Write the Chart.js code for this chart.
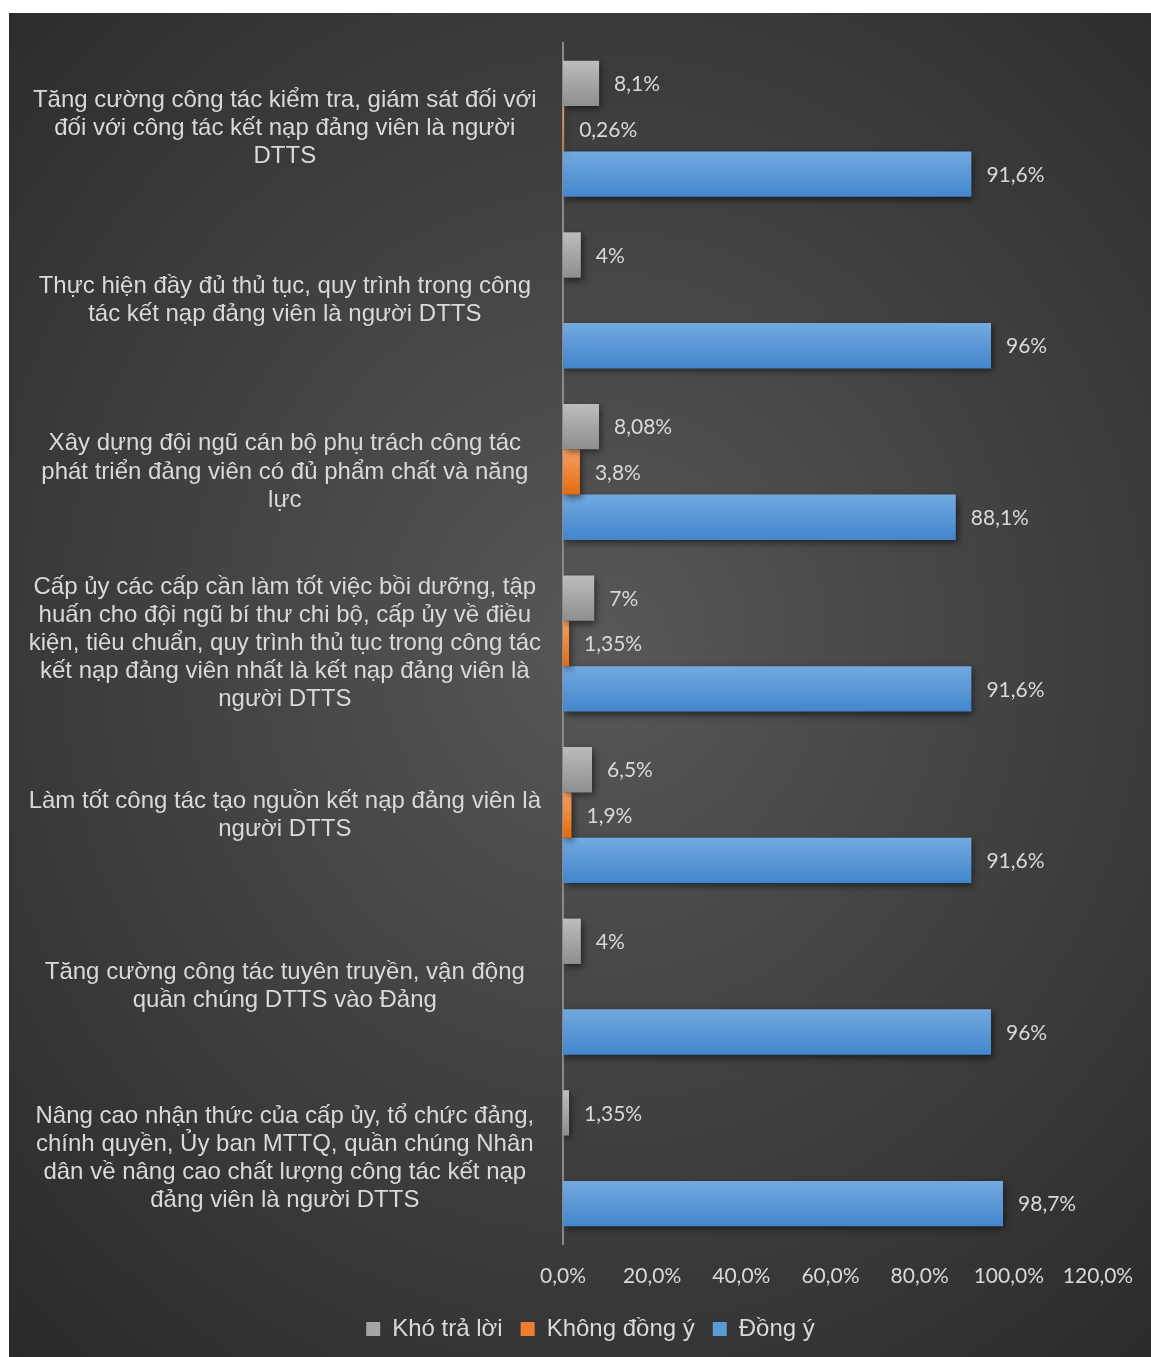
<!DOCTYPE html>
<html>
<head>
<meta charset="utf-8">
<script src="https://cdn.jsdelivr.net/npm/chart.js@4.4.1/dist/chart.umd.min.js"></script>
<style>
  html, body { margin: 0; padding: 0; background: #fff; }
  #box {
    position: absolute; left: 9px; top: 13px; width: 1142px; height: 1344px;
    background: radial-gradient(ellipse 78% 72% at 52% 47%, #585858 0%, #404040 50%, #292929 100%);
  }
</style>
</head>
<body>
<div id="box"><canvas id="chart"></canvas></div>
<script>
// ---------- DATOS ----------
const categories = [
  ["Tăng cường công tác kiểm tra, giám sát đối với", "đối với công tác kết nạp đảng viên là người", "DTTS"],
  ["Thực hiện đầy đủ thủ tục, quy trình trong công", "tác kết nạp đảng viên là người DTTS"],
  ["Xây dựng đội ngũ cán bộ phụ trách công tác", "phát triển đảng viên có đủ phẩm chất và năng", "lực"],
  ["Cấp ủy các cấp cần làm tốt việc bồi dưỡng, tập", "huấn cho đội ngũ bí thư chi bộ, cấp ủy về điều", "kiện, tiêu chuẩn, quy trình thủ tục trong công tác", "kết nạp đảng viên nhất là kết nạp đảng viên là", "người DTTS"],
  ["Làm tốt công tác tạo nguồn kết nạp đảng viên là", "người DTTS"],
  ["Tăng cường công tác tuyên truyền, vận động", "quần chúng DTTS vào Đảng"],
  ["Nâng cao nhận thức của cấp ủy, tổ chức đảng,", "chính quyền, Ủy ban MTTQ, quần chúng Nhân", "dân về nâng cao chất lượng công tác kết nạp", "đảng viên là người DTTS"]
];

const seriesNames = ["Khó trả lời", "Không đồng ý", "Đồng ý"];
const khoTraLoi = [8.1, 4, 8.08, 7, 6.5, 4, 1.35];
const khongDongY = [0.26, null, 3.8, 1.35, 1.9, null, null];
const dongY = [91.6, 96, 88.1, 91.6, 91.6, 96, 98.7];

const xTicks = [0, 20, 40, 60, 80, 100, 120];

// colores: [arriba, abajo] del degradado y color plano para la leyenda
const fills = [
  { top: "#bdbdbd", bottom: "#8e8e8e", solid: "#a5a5a5" },
  { top: "#f8a060", bottom: "#e36c0f", solid: "#ed7d31" },
  { top: "#72a9e0", bottom: "#4386cc", solid: "#5b9bd5" }
];

const CAT_PCT = 0.793;
const TEXT = "#d9d9d9";

function pct(v, decimals) {
  return String(decimals == null ? v : v.toFixed(decimals)).replace(".", ",") + "%";
}

// degradado vertical por barra, calculado desde la escala Y
function barFill(ctx) {
  const chart = ctx.chart;
  const y = chart.scales.y;
  const f = fills[ctx.datasetIndex];
  if (!y || ctx.dataIndex == null || !(y.height > 0)) return f.solid;
  const catH = y.height / categories.length;
  const thick = catH * CAT_PCT / 3;
  const top = y.getPixelForValue(ctx.dataIndex) - catH * CAT_PCT / 2 + ctx.datasetIndex * thick;
  if (!isFinite(top) || !isFinite(thick)) return f.solid;
  const g = chart.ctx.createLinearGradient(0, top, 0, top + thick);
  g.addColorStop(0, f.top);
  g.addColorStop(1, f.bottom);
  return g;
}

// sombra de las barras + etiquetas de valor
const barExtras = {
  id: "barExtras",
  afterLayout(chart) {
    // la leyenda va centrada un poco a la derecha
    if (chart.legend) {
      chart.legend.left += 37;
      chart.legend.right += 37;
    }
  },
  beforeDatasetsDraw(chart) {
    const c = chart.ctx;
    c.save();
    c.shadowColor = "rgba(0,0,0,0.55)";
    c.shadowBlur = 7;
    c.shadowOffsetX = 2;
    c.shadowOffsetY = 3;
  },
  afterDatasetsDraw(chart) {
    const c = chart.ctx;
    c.restore();
    c.save();
    c.font = "21px Lato";
    c.fillStyle = TEXT;
    c.textAlign = "left";
    c.textBaseline = "middle";
    chart.data.datasets.forEach((ds, i) => {
      const meta = chart.getDatasetMeta(i);
      meta.data.forEach((bar, j) => {
        const v = ds.data[j];
        if (v == null) return;
        c.fillText(pct(v), bar.x + 15, bar.y + 1);
      });
    });
    c.restore();
  }
};

new Chart(document.getElementById("chart"), {
  type: "bar",
  data: {
    labels: categories,
    datasets: [
      { label: seriesNames[0], data: khoTraLoi, backgroundColor: barFill },
      { label: seriesNames[1], data: khongDongY, backgroundColor: barFill },
      { label: seriesNames[2], data: dongY, backgroundColor: barFill }
    ]
  },
  options: {
    indexAxis: "y",
    responsive: true,
    maintainAspectRatio: false,
    animation: false,
    datasets: {
      bar: {
        borderWidth: 0,
        categoryPercentage: CAT_PCT,
        barPercentage: 1
      }
    },
    layout: { padding: { left: 0, top: 30, right: 53, bottom: 6 } },
    scales: {
      x: {
        min: 0,
        max: 120,
        afterBuildTicks: (s) => { s.ticks = xTicks.map((v) => ({ value: v })); },
        afterFit: (s) => { s.height = 55; s.paddingLeft = 0; s.paddingRight = 0; },
        grid: { display: false },
        border: { display: false },
        ticks: {
          color: TEXT,
          padding: 12,
          maxRotation: 0,
          font: { family: "Lato", size: 21 },
          callback: (v) => pct(v, 1)
        }
      },
      y: {
        afterFit: (s) => { s.width = 554; s.paddingTop = 0; s.paddingBottom = 0; },
        grid: { display: false },
        border: { display: true, color: "#8a8a8a", width: 2 },
        ticks: {
          color: TEXT,
          padding: 14,
          crossAlign: "center",
          font: { family: "Liberation Sans", size: 24, lineHeight: 1.17 }
        }
      }
    },
    plugins: {
      colors: { enabled: false },
      tooltip: { enabled: false },
      legend: {
        position: "bottom",
        labels: {
          color: TEXT,
          boxWidth: 14,
          boxHeight: 14,
          padding: 18,
          font: { family: "Liberation Sans", size: 24 },
          generateLabels: (chart) =>
            Chart.defaults.plugins.legend.labels.generateLabels(chart).map((l, i) => {
              l.fillStyle = fills[i].solid;
              l.strokeStyle = "rgba(0,0,0,0)";
              l.lineWidth = 0;
              return l;
            })
        }
      }
    }
  },
  plugins: [barExtras]
});
</script>
</body>
</html>
